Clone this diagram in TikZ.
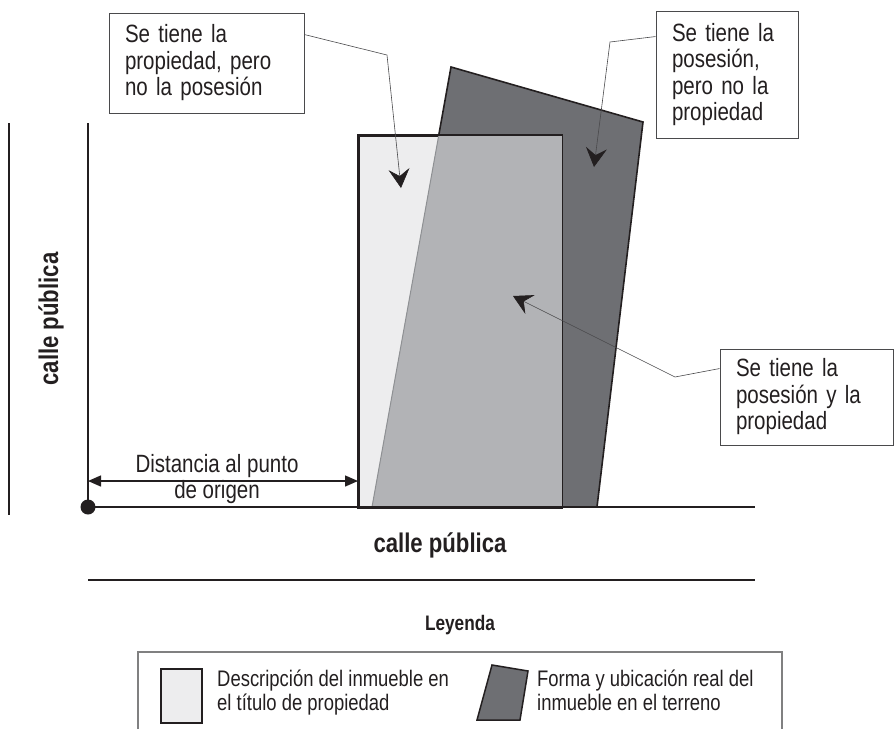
\documentclass[tikz,border=0pt]{standalone}
\usepackage{fontspec}
\setmainfont{Liberation Sans}[FakeStretch=0.82]
\usetikzlibrary{arrows.meta}
\definecolor{ink}{HTML}{231F20}
\definecolor{lightfill}{HTML}{EDEDEE}
\definecolor{midfill}{HTML}{B2B3B6}
\definecolor{darkfill}{HTML}{6E6F73}
\definecolor{edgegray}{HTML}{8E9093}
\definecolor{boxline}{HTML}{4A4A4C}
\definecolor{legline}{HTML}{808081}
\begin{document}
\begin{tikzpicture}[x=1pt,y=-1pt,line join=miter,
  font=\fontsize{25}{26.5}\selectfont, text=ink,
  callout/.style={draw=boxline, line width=0.9pt, fill=white, align=left,
    inner xsep=16pt, inner ysep=0pt, anchor=center},
  leader/.style={draw=boxline, line width=0.6pt,
    -{Stealth[length=19pt,width=21pt,inset=7pt,color=ink]}},
  dimline/.style={draw=ink, line width=1.4pt,
    {Triangle[length=13pt,width=11pt]}-{Triangle[length=13pt,width=11pt]}},
  street/.style={draw=ink, line width=2pt},
  boldlabel/.style={font=\bfseries\fontsize{27}{30}\selectfont},
  legtext/.style={font=\fontsize{22.5}{23.5}\selectfont, align=left, anchor=north west, inner sep=0pt}
]
\useasboundingbox (0,0) rectangle (895,729);

% real shape of the property
\coordinate (P1) at (451,67);
\coordinate (P2) at (643,122);
\coordinate (P3) at (597,507);
\coordinate (P4) at (372,507);
\filldraw[fill=darkfill, draw=ink, line width=1.6pt] (P1) -- (P2) -- (P3) -- (P4) -- cycle;

% title description
\node[draw=ink, line width=1.6pt, fill=lightfill, minimum width=203pt, minimum height=372pt,
      inner sep=0pt, anchor=north west] (titulo) at (358,135) {};
\begin{scope}
  \clip (titulo.north west) rectangle (titulo.south east);
  \fill[midfill] (P1) -- (P2) -- (P3) -- (P4) -- cycle;
  \draw[edgegray, line width=1pt] (P1) -- (P4);
\end{scope}
\draw[ink, line width=1.6pt] (titulo.north west) rectangle (titulo.south east);

% streets
\node[circle, fill=ink, minimum size=15pt, inner sep=0pt] (origen) at (88,507) {};
\draw[street] (88,123) -- (origen.center) -- (755,507);
\draw[street] (9,123) -- (9,515);
\draw[street] (88,580) -- (755,580);

\node[boldlabel, rotate=90] (calleizq) at (51,319) {calle pública};
\node[boldlabel, anchor=base] (calleinf) at (440,552) {calle pública};
\node[font=\bfseries\fontsize{21}{24}\selectfont, anchor=base] (leyenda) at (460,630) {Leyenda};

% distance
\coordinate (dref) at (0,481);
\draw[dimline] (origen.center |- dref) -- (titulo.west |- dref);
\node[align=center, anchor=north, inner sep=0pt] (dist) at (217,454) {Distancia al punto\\de origen};

% callouts
\node[callout, text width=163pt, minimum height=100pt] (c1) at (206.5,63)
  {Se tiene la\\propiedad, pero\\no la posesión};
\node[callout, text width=110pt, minimum height=127pt] (c2) at (727,74.5)
  {Se tiene la\\posesión,\\pero no la\\propiedad};
\node[callout, text width=141pt, minimum height=96pt] (c3) at (806.5,397)
  {Se tiene la\\posesión y la\\propiedad};

\coordinate (k1) at (387,55);  \coordinate (a1) at (401,188);
\coordinate (k2) at (610,42);  \coordinate (a2) at (594,167);
\coordinate (k3) at (675,377); \coordinate (a3) at (513,296);
\draw[leader] ([yshift=-22pt]c1.north east) -- (k1) -- (a1);
\draw[leader] ([yshift=-26pt]c2.north west) -- (k2) -- (a2);
\draw[leader] ([yshift=-20pt]c3.north west) -- (k3) -- (a3);

% legend
\draw[legline, line width=1.2pt] (138,729) |- (782,652) -- (782,729);
\node[draw=ink, line width=1.5pt, fill=lightfill, minimum width=41pt, minimum height=54pt,
      inner sep=0pt, anchor=north west] (leg1) at (160,668) {};
\node[legtext] (legt1) at (217,670) {Descripción del inmueble en\\el título de propiedad};
\filldraw[fill=darkfill, draw=ink, line width=1.5pt] (492,665) -- (528,671) -- (520,720) -- (477,720) -- cycle;
\node[legtext] (legt2) at (537,670) {Forma y ubicación real del\\inmueble en el terreno};
\end{tikzpicture}
\end{document}
